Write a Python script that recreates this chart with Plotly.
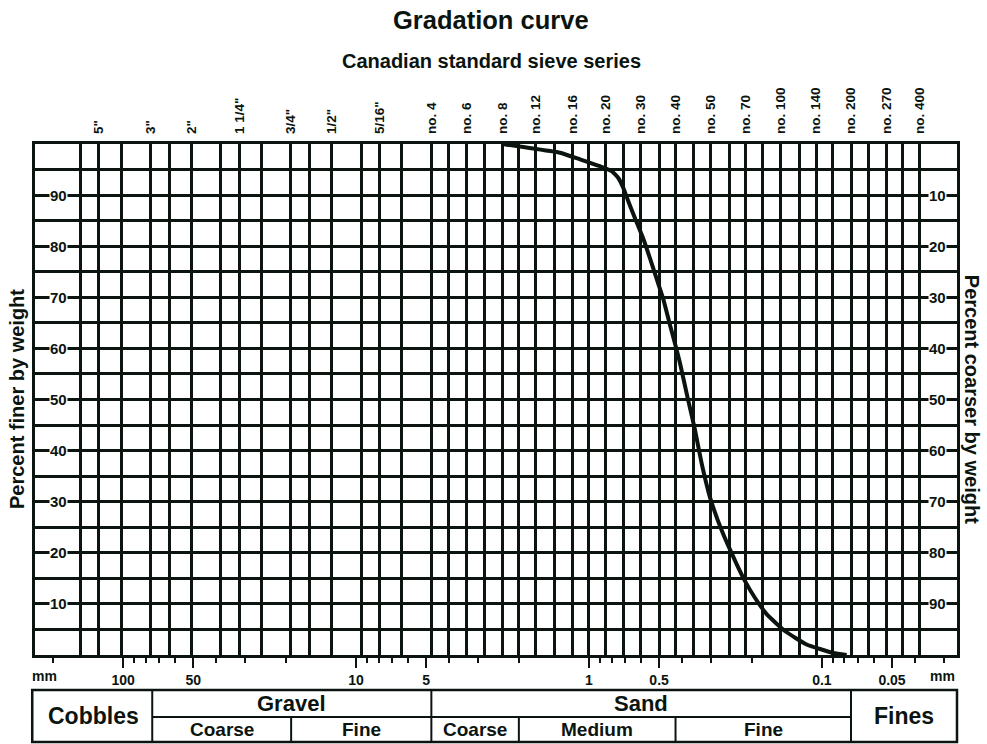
import math
import plotly.graph_objects as go

# ---------------- data ----------------
curve_size_mm = [2.36, 1.914, 1.332, 1.093, 0.897, 0.799, 0.748, 0.712, 0.678, 0.635, 0.585,
                 0.547, 0.512, 0.480, 0.449, 0.4276, 0.407, 0.3785, 0.3508, 0.3283, 0.3025,
                 0.2694, 0.2323, 0.2141, 0.1939, 0.1727, 0.1442, 0.1163, 0.0894, 0.0783]
curve_pct_finer = [100, 99.4, 98.3, 97.0, 95.65, 94.7, 93.35, 91.4, 88.8, 85.5, 81.5,
                   77.6, 73.6, 69.7, 64.6, 61.0, 57.2, 50.65, 44.1, 37.5, 30.9,
                   24.4, 17.8, 14.5, 11.2, 8.0, 4.7, 2.06, 0.4, 0.0]

grid_sieve_mm = [152.4, 127, 101.6, 76.2, 63.5, 50.8, 38.1, 31.75, 25.4, 19.05, 15.9, 12.7,
                 9.5, 7.94, 6.35, 4.75, 4.0, 3.35, 2.8, 2.36, 2.0, 1.7, 1.4, 1.18, 1.0, 0.85,
                 0.71, 0.6, 0.5, 0.425, 0.355, 0.3, 0.25, 0.212, 0.18, 0.15, 0.125, 0.106,
                 0.09, 0.075, 0.063, 0.053, 0.045, 0.038]

top_label_mm = [127, 76.2, 50.8, 31.75, 19.05, 12.7, 7.94, 4.75, 3.35, 2.36, 1.7, 1.18,
                0.85, 0.6, 0.425, 0.3, 0.212, 0.15, 0.106, 0.075, 0.053, 0.038]
top_labels = ['5"', '3"', '2"', '1 1/4"', '3/4"', '1/2"', '5/16"', 'no. 4', 'no. 6', 'no. 8',
              'no. 12', 'no. 16', 'no. 20', 'no. 30', 'no. 40', 'no. 50', 'no. 70', 'no. 100',
              'no. 140', 'no. 200', 'no. 270', 'no. 400']

bottom_tick_mm = [100, 50, 10, 5, 1, 0.5, 0.1, 0.05]
bottom_tick_text = ["100", "50", "10", "5", "1", "0.5", "0.1", "0.05"]
minor_tick_mm = [200, 90, 80, 70, 60, 40, 30, 20, 9, 8, 7, 6, 4, 3, 2,
                 0.9, 0.8, 0.7, 0.6, 0.4, 0.3, 0.2, 0.09, 0.08, 0.07, 0.06, 0.04, 0.03]

pct_grid = list(range(0, 101, 5))
pct_labels = [10, 20, 30, 40, 50, 60, 70, 80, 90]

size_range_mm = [239, 0.0263]

main_classes = ["Cobbles", "Gravel", "Sand", "Fines"]
main_bounds_mm = [239, 75, 4.75, 0.075, 0.0263]
main_full_height = [True, False, False, True]
sub_classes = ["Coarse", "Fine", "Coarse", "Medium", "Fine"]
sub_bounds_mm = [75, 19, 4.75, 2.0, 0.425, 0.075]

# ---------------- figure ----------------
L = math.log10
xr = [L(size_range_mm[0]), L(size_range_mm[1])]
INK = "#0b140f"
FONT = "Liberation Sans"


def bold(size):
    return dict(size=size, family=FONT, weight="bold", color=INK)


fig = go.Figure()

fig.add_trace(go.Scatter(x=curve_size_mm, y=curve_pct_finer, mode="lines",
                         line=dict(color=INK, width=4, shape="spline", smoothing=0.4),
                         hoverinfo="skip", showlegend=False))
# invisible anchors for the overlaying axes
fig.add_trace(go.Scatter(x=top_label_mm, y=[50] * len(top_label_mm), xaxis="x2", mode="markers",
                         marker=dict(opacity=0), hoverinfo="skip", showlegend=False))
fig.add_trace(go.Scatter(x=grid_sieve_mm, y=[50] * len(grid_sieve_mm), xaxis="x3", mode="markers",
                         marker=dict(opacity=0), hoverinfo="skip", showlegend=False))

fig.update_layout(
    width=987, height=744,
    margin=dict(l=35, r=30, t=144, b=89),
    paper_bgcolor="white", plot_bgcolor="white",
    font=dict(family=FONT, color=INK),
    showlegend=False,
    xaxis=dict(type="log", range=xr, showgrid=False, zeroline=False,
               showline=True, linecolor=INK, linewidth=3, mirror=True,
               tickmode="array", tickvals=bottom_tick_mm, ticktext=bottom_tick_text,
               ticks="outside", ticklen=10, tickwidth=2, tickcolor=INK,
               tickfont=bold(14),
               minor=dict(tickmode="array", tickvals=minor_tick_mm, ticks="outside",
                          ticklen=5, tickwidth=1.5, tickcolor=INK, showgrid=False),
               fixedrange=True),
    xaxis2=dict(type="log", range=xr, overlaying="x", side="top", showgrid=False,
                showline=False, zeroline=False,
                tickmode="array", tickvals=top_label_mm, ticktext=top_labels,
                tickangle=-90, ticks="", ticklabelstandoff=9,
                tickfont=bold(13.5), fixedrange=True),
    xaxis3=dict(type="log", range=xr, overlaying="x", side="bottom", showgrid=True,
                gridcolor=INK, gridwidth=2.5, showline=False, zeroline=False,
                tickmode="array", tickvals=grid_sieve_mm, showticklabels=False, ticks="",
                fixedrange=True),
    yaxis=dict(range=[0, 100], showgrid=True, gridcolor=INK, gridwidth=2.5, zeroline=False,
               showline=True, linecolor=INK, linewidth=3, mirror=True,
               tickmode="array", tickvals=pct_grid, showticklabels=False, ticks="",
               fixedrange=True),
)

H = 511.0  # plot height in px, used to convert pixel offsets to paper units


def ypx(py):
    return (655 - py) / H


ann = []
C = dict(showarrow=False, xanchor="center", yanchor="middle")
# titles
ann.append(dict(text="Gradation curve", xref="paper", yref="paper", x=0.495, y=ypx(20),
                font=bold(25.5), **C))
ann.append(dict(text="Canadian standard sieve series", xref="paper", yref="paper", x=0.495,
                y=ypx(61), font=bold(20), **C))
# axis titles
ann.append(dict(text="Percent finer by weight", xref="paper", yref="paper", x=-0.020, y=0.5,
                textangle=-90, font=bold(20), **C))
ann.append(dict(text="Percent coarser by weight", xref="paper", yref="paper", x=1.017, y=0.5,
                textangle=90, font=bold(20), **C))
# inside percentage labels
for p in pct_labels:
    ann.append(dict(text=str(p), xref="paper", yref="y", x=0.026, y=p,
                    bgcolor="white", borderpad=0, font=bold(15), **C))
    ann.append(dict(text=str(100 - p), xref="paper", yref="y", x=0.979, y=p,
                    bgcolor="white", borderpad=0, font=bold(15), **C))
# mm labels
for xp in (0.01, 0.984):
    ann.append(dict(text="mm", xref="paper", yref="paper", x=xp, y=ypx(676),
                    font=bold(14), **C))

# ---------------- classification table ----------------
# (shapes on a log axis take raw data values; annotations take log10 values)
y_top, y_mid, y_bot = ypx(690), ypx(717), ypx(742)
shapes = []
shapes.append(dict(type="rect", xref="paper", yref="paper", x0=-0.003, x1=1.0, y0=y_bot, y1=y_top,
                   line=dict(color=INK, width=2.5)))
shapes.append(dict(type="line", xref="x", yref="paper", x0=sub_bounds_mm[0], x1=sub_bounds_mm[-1],
                   y0=y_mid, y1=y_mid, line=dict(color=INK, width=2)))
for b in main_bounds_mm[1:-1]:
    shapes.append(dict(type="line", xref="x", yref="paper", x0=b, x1=b, y0=y_bot, y1=y_top,
                       line=dict(color=INK, width=2)))
for b in sub_bounds_mm[1:-1]:
    if b in main_bounds_mm:
        continue
    shapes.append(dict(type="line", xref="x", yref="paper", x0=b, x1=b, y0=y_bot, y1=y_mid,
                       line=dict(color=INK, width=2)))

for i, name in enumerate(main_classes):
    xm = (L(main_bounds_mm[i]) + L(main_bounds_mm[i + 1])) / 2
    full = main_full_height[i]
    ann.append(dict(text=name, xref="x", yref="paper", x=xm,
                    y=(y_top + y_bot) / 2 if full else (y_top + y_mid) / 2,
                    font=bold(23 if full else 22), **C))
for i, name in enumerate(sub_classes):
    xm = (L(sub_bounds_mm[i]) + L(sub_bounds_mm[i + 1])) / 2
    ann.append(dict(text=name, xref="x", yref="paper", x=xm, y=(y_mid + y_bot) / 2,
                    font=bold(19), **C))

fig.update_layout(annotations=ann, shapes=shapes)
fig.write_html("out.html", config={"displayModeBar": False},
               post_script="document.body.style.margin='0';")
